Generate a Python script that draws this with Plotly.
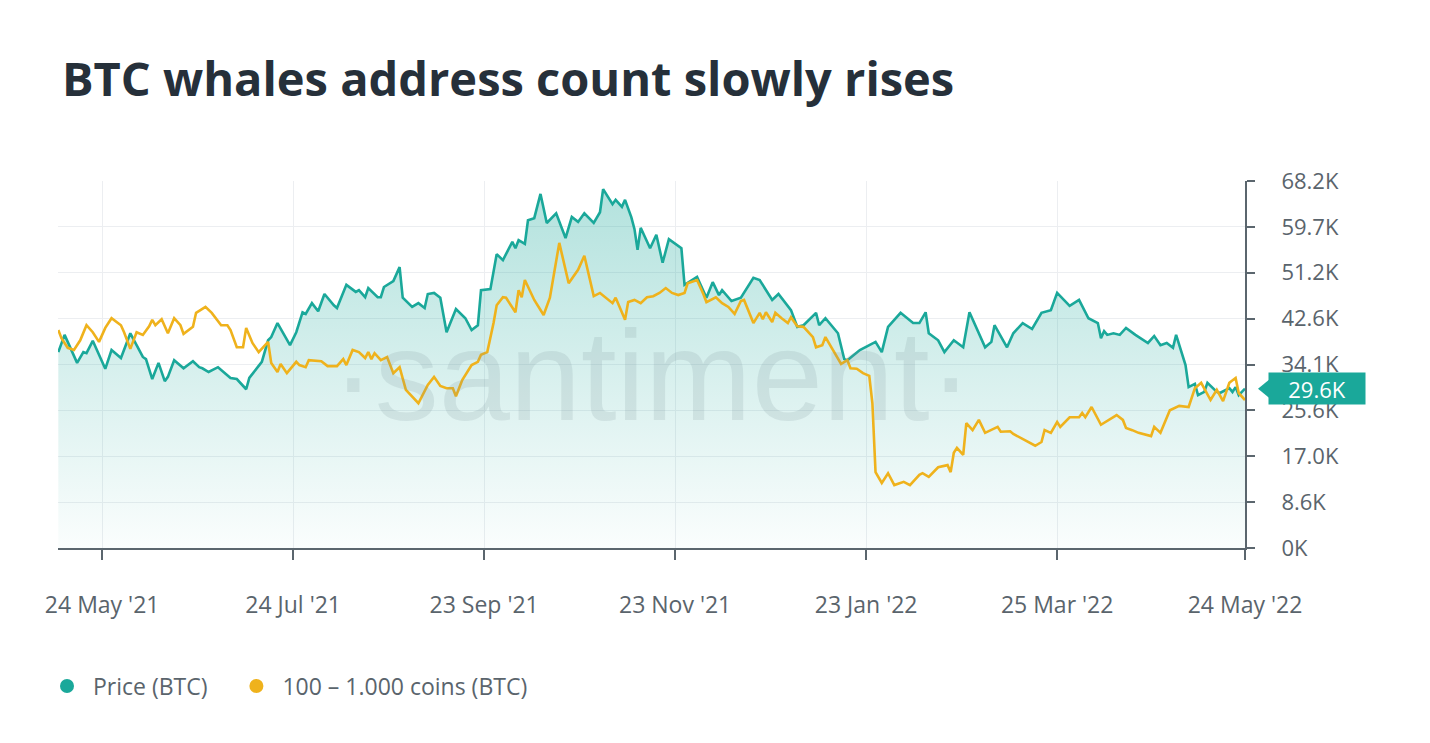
import pandas as pd
import plotly.graph_objects as go

# ---------------- data ----------------
BASE_DATE = "2021-05-24"  # day offsets below are counted from this date

price_days = [-14, -12, -8, -6, -5, -3, 1, 3, 6, 9, 13, 14, 16, 18, 20, 21, 23, 26, 29, 31, 32, 34, 37, 41, 43,
              46, 47, 51, 53, 54, 56, 60, 62, 64, 65, 67, 69, 71, 74, 75, 78, 81, 82, 84, 85, 88, 89, 90, 93, 95,
              96, 99, 101, 103, 104, 106, 108, 110, 113, 116, 118, 120, 121, 124, 126, 128, 131, 132, 133, 135,
              136, 138, 140, 142, 145, 148, 150, 152, 154, 157, 159, 160, 163, 164, 166, 167, 169, 170, 171, 172,
              175, 177, 179, 181, 185, 186, 190, 193, 195, 197, 198, 201, 204, 208, 210, 214, 216, 220, 222, 224,
              228, 229, 231, 235, 237, 238, 242, 247, 249, 251, 255, 259, 261, 263, 264, 267, 269, 272, 275, 277,
              282, 284, 285, 289, 291, 294, 297, 300, 303, 305, 309, 312, 315, 318, 319, 320, 321, 323, 325, 327,
              330, 334, 336, 338, 340, 342, 343, 346, 347, 349, 350, 352, 353, 356, 357, 360, 361, 362, 363, 365]
price_k = [36.4, 39.6, 34.4, 36.4, 36.2, 38.5, 33.3, 36.8, 35.3, 39.9, 35.5, 35.1, 31.4, 34.4, 31.0, 31.8, 34.9,
           33.4, 34.7, 33.6, 33.4, 32.7, 33.6, 31.6, 31.4, 29.5, 31.6, 34.6, 38.6, 39.2, 41.8, 37.7, 40.1, 43.8,
           43.5, 45.5, 44.0, 47.2, 45.1, 44.6, 48.9, 47.6, 47.9, 46.6, 48.3, 46.6, 46.6, 48.5, 49.6, 52.2, 46.5,
           44.8, 45.5, 44.6, 47.2, 47.4, 46.5, 40.1, 44.4, 42.7, 40.5, 41.4, 47.9, 48.1, 54.6, 53.5, 56.9, 55.7,
           57.2, 56.5, 60.9, 61.3, 65.8, 60.4, 62.2, 57.6, 61.5, 60.6, 62.2, 60.4, 62.4, 66.7, 63.9, 64.7, 63.4,
           64.7, 61.5, 59.3, 55.4, 59.5, 55.7, 58.2, 53.0, 57.4, 55.7, 48.9, 50.4, 46.5, 49.4, 47.0, 47.9, 45.9,
           46.5, 50.2, 49.8, 46.1, 47.2, 44.2, 41.1, 41.4, 43.7, 41.4, 42.7, 39.9, 35.1, 34.9, 36.8, 38.3, 36.4,
           41.1, 43.7, 41.8, 41.8, 43.8, 39.9, 38.6, 36.4, 38.6, 37.3, 43.8, 37.3, 38.3, 41.4, 37.3, 39.9, 41.8,
           40.7, 43.7, 44.2, 47.4, 45.0, 46.1, 42.7, 41.8, 39.0, 40.3, 39.6, 39.9, 39.6, 40.9, 39.6, 38.1, 39.4,
           37.7, 38.1, 37.2, 39.6, 34.0, 29.9, 30.5, 28.4, 29.0, 30.7, 29.0, 28.8, 29.7, 29.0, 29.9, 28.4, 29.6]

whale_days = [-14, -13, -11, -9, -7, -5, -3, -1, 1, 3, 6, 7, 9, 11, 13, 15, 16, 17, 19, 21, 23, 25, 26, 29, 30,
              33, 35, 38, 40, 41, 43, 45, 46, 48, 50, 53, 54, 56, 57, 59, 62, 63, 65, 66, 70, 72, 75, 77, 78, 80,
              82, 84, 85, 86, 87, 89, 91, 93, 95, 97, 101, 104, 106, 108, 110, 112, 113, 115, 118, 120, 121, 123,
              125, 126, 128, 129, 132, 133, 134, 135, 138, 141, 143, 146, 149, 152, 154, 157, 159, 161, 163, 164,
              166, 167, 168, 170, 172, 174, 176, 178, 180, 182, 184, 186, 187, 190, 192, 193, 196, 198, 200, 202,
              204, 205, 208, 210, 211, 212, 214, 215, 217, 219, 220, 222, 224, 227, 228, 230, 231, 233, 236, 238,
              239, 241, 243, 245, 246, 247, 249, 251, 253, 256, 258, 261, 262, 264, 267, 270, 271, 272, 273, 275,
              276, 278, 280, 282, 286, 287, 290, 291, 298, 300, 301, 303, 305, 306, 309, 312, 313, 314, 316, 319,
              324, 326, 327, 329, 331, 335, 336, 338, 341, 344, 347, 349, 351, 354, 356, 358, 360, 362, 363, 365]
whale_scaled = [40.5, 39.0, 37.2, 36.8, 38.6, 41.4, 40.1, 38.3, 40.9, 42.7, 41.4, 40.1, 37.0, 40.1, 39.6, 41.2,
                42.4, 41.4, 42.5, 39.9, 42.7, 41.4, 39.8, 41.1, 43.7, 44.8, 43.7, 41.4, 41.4, 40.5, 37.3, 37.3,
                40.9, 38.1, 36.4, 38.3, 34.4, 32.7, 34.2, 32.5, 34.6, 34.0, 33.6, 34.9, 34.7, 33.8, 33.8, 35.1,
                34.0, 36.8, 36.4, 35.3, 36.4, 35.1, 36.2, 34.9, 35.5, 32.5, 33.6, 29.4, 26.9, 30.3, 31.8, 30.1,
                29.7, 29.7, 28.2, 31.2, 34.0, 34.6, 35.9, 36.4, 41.8, 45.1, 46.6, 46.5, 43.8, 47.9, 46.6, 49.8,
                46.1, 43.3, 46.5, 56.7, 49.2, 51.7, 54.3, 46.8, 47.4, 46.5, 45.5, 46.5, 43.7, 42.4, 45.7, 46.1,
                45.5, 46.6, 46.8, 47.4, 48.3, 47.4, 47.0, 47.4, 49.2, 49.8, 47.2, 45.7, 46.6, 45.5, 44.8, 43.5,
                45.9, 46.1, 41.8, 43.7, 42.5, 43.8, 42.0, 43.7, 42.7, 41.8, 42.9, 41.2, 41.1, 39.2, 37.3, 37.7,
                39.2, 37.2, 34.2, 34.9, 33.4, 33.3, 32.5, 32.0, 26.9, 14.1, 12.1, 13.9, 11.7, 12.3, 11.7, 13.6,
                13.9, 13.2, 15.0, 15.4, 14.1, 17.7, 18.6, 17.3, 23.2, 21.9, 23.8, 21.4, 22.5, 21.6, 21.7, 21.2,
                19.0, 19.7, 21.9, 21.4, 23.4, 22.5, 24.3, 24.3, 25.1, 24.3, 26.2, 22.9, 24.7, 23.8, 22.3, 21.9,
                21.4, 20.8, 22.5, 21.4, 25.6, 26.4, 26.2, 29.7, 30.7, 27.5, 29.4, 27.3, 30.7, 31.6, 28.8, 27.5]

y_tick_vals = [0, 8.525, 17.05, 25.575, 34.1, 42.625, 51.15, 59.675, 68.2]
y_tick_text = ["0K", "8.6K", "17.0K", "25.6K", "34.1K", "42.6K", "51.2K", "59.7K", "68.2K"]
x_tick_vals = ["2021-05-24", "2021-07-24", "2021-09-23", "2021-11-23", "2022-01-23", "2022-03-25", "2022-05-24"]
x_tick_text = ["24 May '21", "24 Jul '21", "23 Sep '21", "23 Nov '21", "23 Jan '22", "25 Mar '22", "24 May '22"]
last_price_label = "29.6K"

TITLE = "BTC whales address count slowly rises"
NAME_PRICE = "Price (BTC)"
NAME_WHALES = "100 – 1.000 coins (BTC)"

# ---------------- styling ----------------
TEAL = "#1aa89a"
YELLOW = "#efb21c"
AXIS = "#5b666e"
TEXT = "#5a646c"
GRID = "#eceef1"
FONT = "Open Sans"
NB = "\u00a0"

base = pd.Timestamp(BASE_DATE)
price_dates = [base + pd.Timedelta(days=d) for d in price_days]
whale_dates = [base + pd.Timedelta(days=d) for d in whale_days]

fig = go.Figure()

fig.add_trace(go.Scatter(
    x=price_dates, y=price_k, mode="lines", name=NAME_PRICE, showlegend=False,
    line=dict(color=TEAL, width=2.6),
    fill="tozeroy",
    fillgradient=dict(type="vertical",
                      colorscale=[[0, "rgba(26,168,154,0.02)"], [1, "rgba(26,168,154,0.34)"]],
                      start=0, stop=68.2),
))
fig.add_trace(go.Scatter(
    x=whale_dates, y=whale_scaled, mode="lines", name=NAME_WHALES, showlegend=False,
    line=dict(color=YELLOW, width=2.6),
))

# legend entries with round dots
fig.add_trace(go.Scatter(x=[None], y=[None], mode="markers", name=NB + NAME_PRICE + NB * 4,
                         marker=dict(color=TEAL, size=14)))
fig.add_trace(go.Scatter(x=[None], y=[None], mode="markers", name=NB + NAME_WHALES,
                         marker=dict(color=YELLOW, size=14)))

x_start = base + pd.Timedelta(days=-14.1)
x_end = base + pd.Timedelta(days=365)

fig.update_layout(
    width=1430, height=743,
    paper_bgcolor="white", plot_bgcolor="white",
    margin=dict(l=58, r=185, t=181, b=195),
    font=dict(family=FONT, color=TEXT, size=23),
    title=dict(text=TITLE, x=62 / 1430, xref="container", xanchor="left",
               y=1 - 80 / 743, yref="container", yanchor="middle",
               font=dict(family=FONT, size=47, color="#26303a", weight=700)),
    showlegend=True,
    legend=dict(orientation="h", x=47 / 1430, xref="container", xanchor="left",
                y=1 - 686 / 743, yref="container", yanchor="middle",
                font=dict(family=FONT, size=23, color=TEXT), itemclick=False,
                bgcolor="rgba(0,0,0,0)"),
    xaxis=dict(
        type="date", range=[x_start, x_end],
        tickvals=x_tick_vals, ticktext=x_tick_text,
        showgrid=True, gridcolor=GRID, gridwidth=1,
        showline=True, linecolor=AXIS, linewidth=2,
        ticks="outside", ticklen=10, tickwidth=2, tickcolor=AXIS,
        ticklabelstandoff=25,
        tickfont=dict(family=FONT, size=23, color=TEXT),
        zeroline=False, fixedrange=True,
    ),
    yaxis=dict(
        side="right", range=[0, 68.2],
        tickvals=y_tick_vals, ticktext=y_tick_text,
        showgrid=True, gridcolor=GRID, gridwidth=1,
        showline=True, linecolor=AXIS, linewidth=2,
        ticks="outside", ticklen=8, tickwidth=2, tickcolor=AXIS,
        ticklabelstandoff=22,
        tickfont=dict(family=FONT, size=22, color=TEXT),
        zeroline=False, fixedrange=True,
    ),
)

# watermark
fig.add_annotation(
    text="·santiment·", xref="paper", yref="paper", x=0.5, y=0.47,
    showarrow=False,
    font=dict(family="Liberation Sans Narrow, Liberation Sans, sans-serif", size=128,
              color="rgba(120,140,150,0.17)"),
)

# last-value badge
fig.add_annotation(
    text=last_price_label, xref="paper", yref="y", x=1, y=price_k[-1],
    xanchor="left", yanchor="middle", xshift=23, showarrow=False,
    bgcolor=TEAL, borderpad=4, width=88, height=23,
    font=dict(family=FONT, size=22, color="white"),
)
fig.add_shape(
    type="path", xref="paper", yref="y", xsizemode="pixel", ysizemode="pixel",
    xanchor=1, yanchor=price_k[-1],
    path="M 13 0 L 24 -9 L 24 9 Z",
    fillcolor=TEAL, line=dict(width=0),
)

fig.write_html("out.html")
